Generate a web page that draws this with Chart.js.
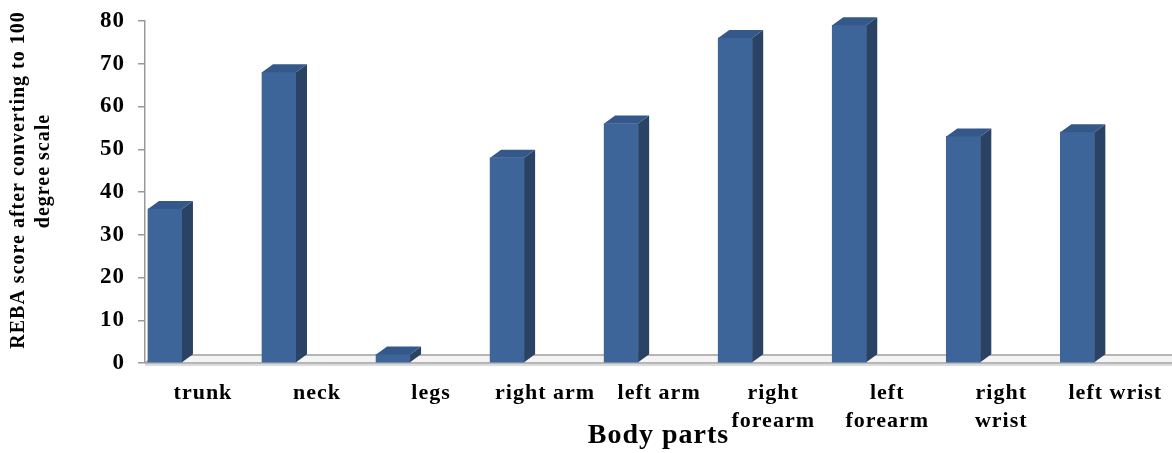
<!DOCTYPE html>
<html>
<head>
<meta charset="utf-8">
<script src="https://cdn.jsdelivr.net/npm/chart.js@4"></script>
<style>
  html, body { margin: 0; padding: 0; background: #fff; }
  #wrap { width: 1172px; height: 453px; }
</style>
</head>
<body>
<div id="wrap"><canvas id="reba-chart"></canvas></div>
<script>
// body parts and their REBA scores
const categories = ['trunk', 'neck', 'legs', 'right arm', 'left arm', 'right forearm', 'left forearm', 'right wrist', 'left wrist'];
const tickLabels = [['trunk'], ['neck'], ['legs'], ['right arm'], ['left arm'], ['right', 'forearm'], ['left', 'forearm'], ['right', 'wrist'], ['left wrist']];
const scores = [36, 68, 2, 48, 56, 76, 79, 53, 54];
const yTicks = [0, 10, 20, 30, 40, 50, 60, 70, 80];

const FRONT = '#3e6599';
const SIDE = '#2a4264';
const TOP = '#34588a';
const DX = 11, DY = 8; // fake depth

// draws the floor and the side / top faces so the bars look 3D
const bar3d = {
  id: 'bar3d',
  beforeDraw(chart) {
    // the original text is a bit loosely spaced
    chart.ctx.letterSpacing = '1px';
  },
  beforeDatasetsDraw(chart) {
    const ctx = chart.ctx;
    const area = chart.chartArea;
    const base = chart.scales.y.getPixelForValue(0);
    ctx.save();
    ctx.fillStyle = '#f4f4f4';
    ctx.beginPath();
    ctx.moveTo(area.left, base);
    ctx.lineTo(area.left + DX, base - DY);
    ctx.lineTo(area.right, base - DY);
    ctx.lineTo(area.right, base);
    ctx.closePath();
    ctx.fill();
    ctx.strokeStyle = '#a0a0a0';
    ctx.lineWidth = 1.5;
    ctx.beginPath();
    ctx.moveTo(area.left, base);
    ctx.lineTo(area.right, base);
    ctx.moveTo(area.left, base);
    ctx.lineTo(area.left + DX, base - DY);
    ctx.lineTo(area.right, base - DY);
    ctx.stroke();
    ctx.strokeStyle = '#d0d0d0';
    ctx.beginPath();
    ctx.moveTo(area.left, base + 2);
    ctx.lineTo(area.right, base + 2);
    ctx.stroke();
    ctx.restore();
  },
  afterDatasetsDraw(chart) {
    const ctx = chart.ctx;
    const meta = chart.getDatasetMeta(0);
    ctx.save();
    meta.data.forEach((bar) => {
      const { x, y, base, width } = bar.getProps(['x', 'y', 'base', 'width'], true);
      const l = x - width / 2;
      const r = x + width / 2;
      ctx.fillStyle = SIDE;
      ctx.beginPath();
      ctx.moveTo(r, y);
      ctx.lineTo(r + DX, y - DY);
      ctx.lineTo(r + DX, base - DY);
      ctx.lineTo(r, base);
      ctx.closePath();
      ctx.fill();
      ctx.fillStyle = TOP;
      ctx.beginPath();
      ctx.moveTo(l, y);
      ctx.lineTo(l + DX, y - DY);
      ctx.lineTo(r + DX, y - DY);
      ctx.lineTo(r, y);
      ctx.closePath();
      ctx.fill();
    });
    ctx.restore();
  }
};

new Chart(document.getElementById('reba-chart'), {
  type: 'bar',
  data: {
    datasets: [{
      label: 'REBA score',
      data: scores.map((v, i) => ({ x: i, y: v })),
      backgroundColor: FRONT,
      borderWidth: 0,
      barThickness: 34
    }]
  },
  options: {
    responsive: true,
    maintainAspectRatio: false,
    animation: false,
    layout: { padding: { top: 21, right: 0, left: 0, bottom: 0 } },
    plugins: {
      legend: { display: false },
      tooltip: { enabled: false }
    },
    scales: {
      x: {
        type: 'linear',
        offset: false,
        min: -0.175,
        max: 8.83,
        grid: { display: false, drawTicks: false },
        border: { display: false },
        afterFit: (scale) => { scale.height = 90; },
        ticks: {
          stepSize: 1,
          includeBounds: false,
          autoSkip: false,
          maxRotation: 0,
          padding: 16,
          labelOffset: 38,
          color: '#000',
          font: { family: '"Liberation Serif", serif', size: 22, weight: 'bold', lineHeight: 1.27 },
          callback: (v) => (Number.isInteger(v) && tickLabels[v]) ? tickLabels[v] : ''
        },
        title: {
          display: true,
          text: 'Body parts',
          color: '#000',
          padding: { top: 0, bottom: 0 },
          font: { family: '"Liberation Serif", serif', size: 28, weight: 'bold' }
        }
      },
      y: {
        min: 0,
        max: 80,
        afterFit: (scale) => { scale.width = 145; scale.paddingTop = 0; scale.paddingBottom = 0; },
        afterBuildTicks: (scale) => { scale.ticks = yTicks.map(v => ({ value: v })); },
        grid: { drawOnChartArea: false, tickLength: 7, color: '#999', lineWidth: 1.5 },
        border: { color: '#999', width: 1.5 },
        ticks: {
          padding: 13,
          color: '#000',
          font: { family: '"Liberation Serif", serif', size: 23, weight: 'bold' }
        },
        title: {
          display: true,
          text: ['    REBA score after converting to 100', '       degree scale'],
          color: '#000',
          padding: { top: 6, bottom: 0 },
          font: { family: '"Liberation Serif", serif', size: 20, weight: 'bold', lineHeight: 1.25 }
        }
      }
    }
  },
  plugins: [bar3d]
});
</script>
</body>
</html>
